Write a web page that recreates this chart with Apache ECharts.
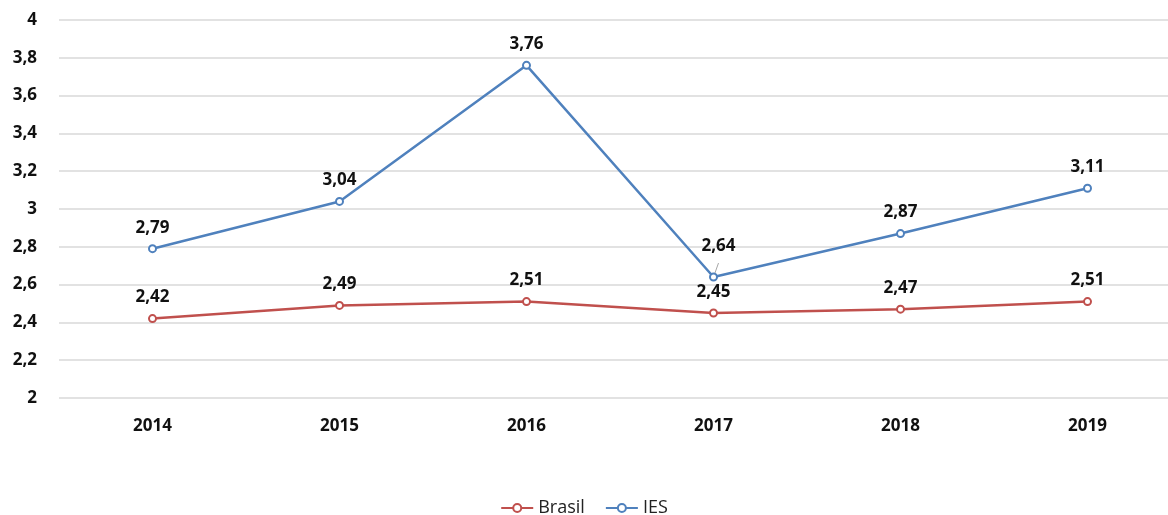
<!DOCTYPE html>
<html>
<head>
<meta charset="utf-8">
<script src="https://cdn.jsdelivr.net/npm/echarts@6/dist/echarts.min.js"></script>
<style>
  html, body { margin: 0; padding: 0; background: #fff; }
  #chart { width: 1168px; height: 515px; }
</style>
</head>
<body>
<div id="chart"></div>
<script>
const years = ['2014', '2015', '2016', '2017', '2018', '2019']
const brasil = [2.42, 2.49, 2.51, 2.45, 2.47, 2.51]
const ies = [2.79, 3.04, 3.76, 2.64, 2.87, 3.11]

const fmt = v => String(v).replace('.', ',')
const font = '"Open Sans", "Liberation Sans", sans-serif'

const chart = echarts.init(document.getElementById('chart'))

// label do ponto 2017 do IES fica mais alto, com linha guia
const iesData = ies.map((v, i) => i === 3
  ? { value: v, label: { offset: [5, -10] }, labelLine: { show: true, lineStyle: { color: '#a6a6a6', width: 1 } } }
  : v)

chart.setOption({
  animation: false,
  grid: { left: 59, top: 20, width: 1122, height: 378, outerBoundsMode: 'none' },
  legend: {
    top: 494,
    left: 'center',
    itemWidth: 32,
    itemHeight: 10,
    itemGap: 20,
    textStyle: { fontFamily: font, fontSize: 18, color: '#222' },
    data: ['Brasil', 'IES']
  },
  xAxis: {
    type: 'category',
    data: years,
    boundaryGap: true,
    axisLine: { show: false },
    axisTick: { show: false },
    axisLabel: { margin: 20, fontFamily: font, fontSize: 17, fontWeight: 'bold', color: '#111' }
  },
  yAxis: {
    type: 'value',
    min: 2,
    max: 4,
    interval: 0.2,
    axisLine: { show: false },
    axisTick: { show: false },
    axisLabel: { margin: 22, fontFamily: font, fontSize: 17, fontWeight: 'bold', color: '#111',
      formatter: v => fmt(Math.round(v * 10) / 10) },
    splitLine: { lineStyle: { color: '#d9d9d9', width: 1.5 } }
  },
  series: [
    {
      name: 'Brasil',
      type: 'line',
      data: brasil,
      symbol: 'emptyCircle',
      symbolSize: 7,
      color: '#c0504d',
      lineStyle: { width: 2.5 },
      itemStyle: { borderWidth: 2 },
      label: { show: true, position: 'top', distance: 8, formatter: p => fmt(p.value),
        fontFamily: font, fontSize: 17, fontWeight: 'bold', color: '#111' }
    },
    {
      name: 'IES',
      type: 'line',
      data: iesData,
      symbol: 'emptyCircle',
      symbolSize: 7,
      color: '#4f81bd',
      lineStyle: { width: 2.5 },
      itemStyle: { borderWidth: 2 },
      label: { show: true, position: 'top', distance: 8, formatter: p => fmt(p.value),
        fontFamily: font, fontSize: 17, fontWeight: 'bold', color: '#111' }
    }
  ]
})
</script>
</body>
</html>
